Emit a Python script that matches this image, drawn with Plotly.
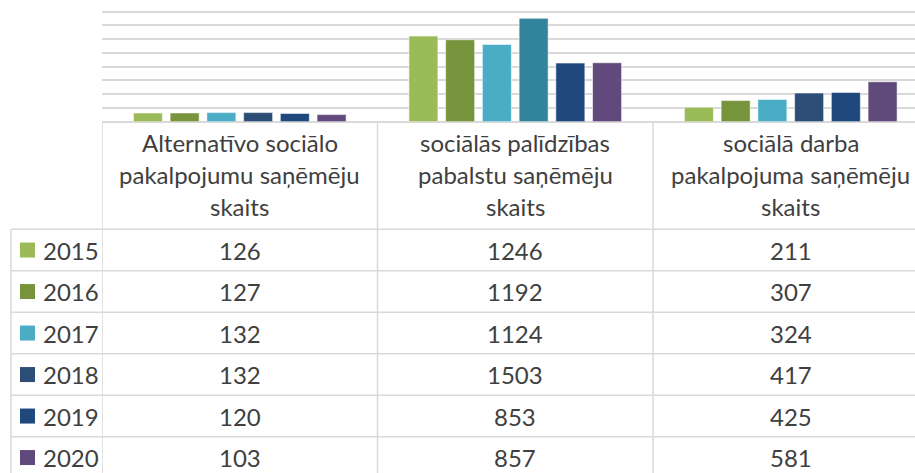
import plotly.graph_objects as go

# ---------------- data ----------------
categories = [
    ["Alternatīvo sociālo", "pakalpojumu saņēmēju", "skaits"],
    ["sociālās palīdzības", "pabalstu saņēmēju", "skaits"],
    ["sociālā darba", "pakalpojuma saņēmēju", "skaits"],
]
years = ["2015", "2016", "2017", "2018", "2019", "2020"]
values_2015 = [126, 1246, 211]
values_2016 = [127, 1192, 307]
values_2017 = [132, 1124, 324]
values_2018 = [132, 1503, 417]
values_2019 = [120, 853, 425]
values_2020 = [103, 857, 581]
series_values = [values_2015, values_2016, values_2017, values_2018, values_2019, values_2020]

legend_colors = ["#9BBB59", "#77933C", "#4BACC6", "#2C4D75", "#1F497D", "#604A7B"]
point_colors = [
    ["#9BBB59"] * 3,
    ["#77933C"] * 3,
    ["#4BACC6"] * 3,
    ["#2C4D75", "#31849B", "#2C4D75"],
    ["#1F497D"] * 3,
    ["#604A7B"] * 3,
]

# ---------------- layout constants (pixels) ----------------
W, H = 915, 473
PLOT_L = 102
CAT_W = 275.5
BASE_Y = 121.7
TOP_Y = 11.7
Y_MAX = 1600
HEADER_BOTTOM = 229.3
ROW_H = 41.5
LEGEND_L = 11
FONT = "Lato"
FS = 24
TXT = "#404040"
GRID = "#D9D9D9"


def py(p):
    return 1 - p / H


def px(p):
    return (p - PLOT_L) / (W - PLOT_L)


# extend the plot area slightly above the top gridline so that it is drawn
EXTRA = 3
units_per_px = Y_MAX / (BASE_Y - TOP_Y)

x_idx = list(range(len(categories)))

fig = go.Figure()
for name, vals, cols in zip(years, series_values, point_colors):
    fig.add_trace(go.Bar(
        x=x_idx, y=vals, name=name,
        marker=dict(color=cols, line=dict(color="rgba(255,255,255,0.55)", width=1)),
        showlegend=False, hoverinfo="x+y+name",
    ))

shapes = []
annotations = []

# horizontal table lines
for i in range(len(years)):
    yy = HEADER_BOTTOM + i * ROW_H
    shapes.append(dict(type="line", xref="paper", yref="paper",
                       x0=px(LEGEND_L), x1=1, y0=py(yy), y1=py(yy),
                       line=dict(color=GRID, width=1.5)))
# vertical table lines
shapes.append(dict(type="line", xref="paper", yref="paper",
                   x0=px(LEGEND_L), x1=px(LEGEND_L), y0=py(HEADER_BOTTOM), y1=0,
                   line=dict(color=GRID, width=1.5)))
for b in [-0.5, 0.5, 1.5]:
    shapes.append(dict(type="line", xref="x", yref="paper",
                       x0=b, x1=b, y0=py(BASE_Y), y1=0,
                       line=dict(color=GRID, width=1.5)))

# header text
LINE_CENTERS = [142.0, 174.5, 206.5]
for i, lines in enumerate(categories):
    for j, t in enumerate(lines):
        annotations.append(dict(x=i, y=py(LINE_CENTERS[j]), xref="x", yref="paper",
                                text=t, showarrow=False, xanchor="center", yanchor="middle",
                                font=dict(family=FONT, size=FS, color=TXT)))

# data rows
for r, (name, vals) in enumerate(zip(years, series_values)):
    cy = HEADER_BOTTOM + (r + 0.5) * ROW_H
    shapes.append(dict(type="rect", xref="paper", yref="paper",
                       x0=px(20), x1=px(35), y0=py(cy - 7.5), y1=py(cy + 7.5),
                       fillcolor=legend_colors[r], line=dict(width=0)))
    annotations.append(dict(x=px(41), y=py(cy), xref="paper", yref="paper",
                            text=name, showarrow=False, xanchor="left", yanchor="middle",
                            font=dict(family=FONT, size=FS, color=TXT)))
    for i, v in enumerate(vals):
        annotations.append(dict(x=i, y=py(cy), xref="x", yref="paper",
                                text=str(v), showarrow=False, xanchor="center", yanchor="middle",
                                font=dict(family=FONT, size=FS, color=TXT)))

fig.update_layout(
    width=W, height=H,
    margin=dict(l=PLOT_L, r=0, t=0, b=0),
    paper_bgcolor="white", plot_bgcolor="white",
    barmode="group", bargap=0.2, bargroupgap=0.21,
    xaxis=dict(range=[-0.5, -0.5 + (W - PLOT_L) / CAT_W], showticklabels=False,
               showgrid=False, zeroline=False, showline=False, ticks=""),
    yaxis=dict(domain=[py(BASE_Y), py(TOP_Y - EXTRA)],
               range=[0, Y_MAX + EXTRA * units_per_px], tick0=0, dtick=200,
               showticklabels=False, showgrid=True, gridcolor=GRID, gridwidth=1.5,
               zeroline=True, zerolinecolor=GRID, zerolinewidth=1.5, ticks=""),
    shapes=shapes, annotations=annotations,
    font=dict(family=FONT, size=FS, color=TXT),
)

fig.write_html("out.html", config={"displayModeBar": False},
               post_script="document.body.style.margin='0px';document.body.style.overflow='hidden';")
